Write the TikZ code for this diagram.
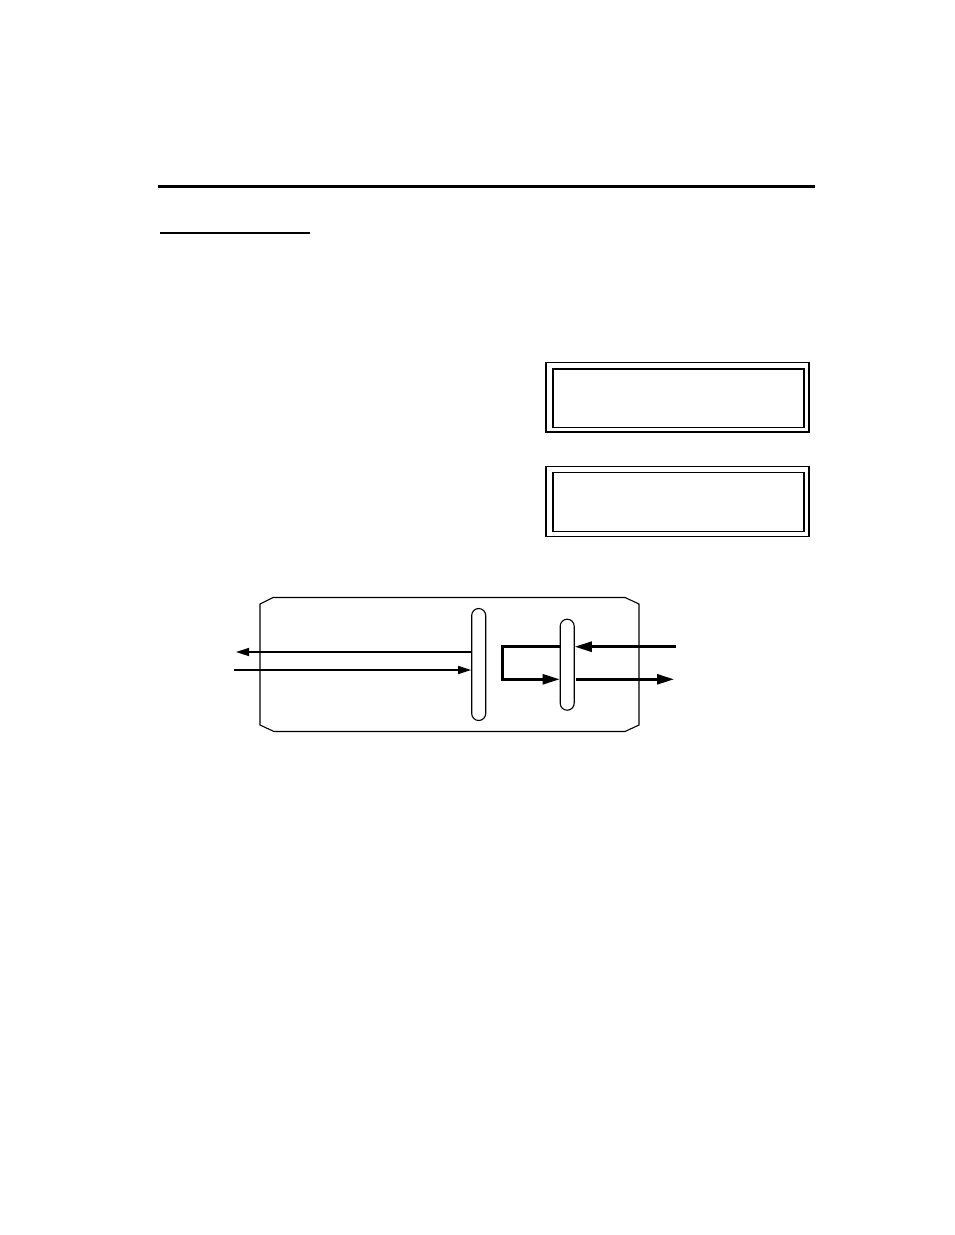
\documentclass[tikz,border=0pt]{standalone}
\usetikzlibrary{arrows.meta}

\tikzset{
    rule/.style={line width=2.4pt},
    pill/.style={draw, line width=1.1pt, rounded corners=7pt, minimum width=14pt, inner sep=0pt},
    thinarrow/.style={line width=1.5pt, -{Triangle[length=13pt, width=8pt]}},
    thickarrow/.style={line width=2.6pt, -{Triangle[length=17pt, width=10pt]}},
}

\begin{document}
\begin{tikzpicture}[x=1pt, y=-1pt]

    \useasboundingbox (0,0) rectangle (954,1235); % Page

    \draw[rule] (158,186.5) -- (815,186.5); % Top rule
    \draw[rule] (160,233) -- (310,233); % Heading underline

    % Display panel - top
    \draw[line width=1.8pt] (546,362.5) rectangle (809,432);
    \draw[line width=1.8pt] (553,369) rectangle (804,427.5);
    % Display panel - bottom
    \draw[line width=1.8pt] (546,466.5) rectangle (809,536.5);
    \draw[line width=1.8pt] (553,472.5) rectangle (804,531.5);

    % Housing with cut corners
    \draw[line width=1.1pt] (273,597.5) -- (625,597.5) -- (639,604) -- (639,725)
        -- (625,731.5) -- (274,731.5) -- (260,725) -- (260,604) -- cycle;

    \node[pill, minimum height=112pt] (slotA) at (478.7,664.5) {}; % Wide slot
    \node[pill, minimum height=91pt] (slotB) at (567.2,664.7) {}; % Narrow slot

    \coordinate (outL) at (236,652);
    \coordinate (inL) at (234,670);
    \coordinate (bend) at (502.7,646.7);
    \coordinate (inR) at (676,646.7);
    \coordinate (outR) at (674,679.3);

    % Left side paths
    \draw[thinarrow] (slotA.west |- outL) -- (outL);
    \draw[thinarrow] (inL) -- (slotA.west |- inL);

    % Loop back through narrow slot
    \draw[line width=2.6pt] (slotB.west |- bend) -- (bend) -- (bend |- outR);
    \draw[thickarrow] ([xshift=-1.3pt]bend |- outR) -- (slotB.west |- outR);

    % Right side paths
    \draw[thickarrow] (inR) -- (slotB.east |- inR);
    \draw[thickarrow] ([xshift=1.5pt]slotB.east |- outR) -- (outR);

\end{tikzpicture}
\end{document}
